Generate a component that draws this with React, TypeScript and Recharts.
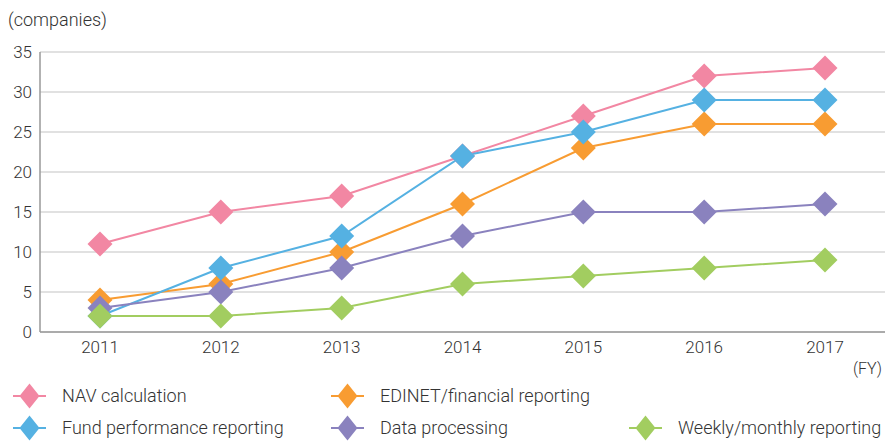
import React from 'react';
import { LineChart, Line, XAxis, YAxis, CartesianGrid, Legend, Label } from 'recharts';

const years = ['2011', '2012', '2013', '2014', '2015', '2016', '2017'];
const navCalc = [11, 15, 17, 22, 27, 32, 33];
const edinet = [4, 6, 10, 16, 23, 26, 26];
const fundPerf = [2, 8, 12, 22, 25, 29, 29];
const dataProc = [3, 5, 8, 12, 15, 15, 16];
const weekly = [2, 2, 3, 6, 7, 8, 9];
const yTicks = [0, 5, 10, 15, 20, 25, 30, 35];

const series = [
  { key: 'nav', name: 'NAV calculation', color: '#F287A3', values: navCalc },
  { key: 'edinet', name: 'EDINET/financial reporting', color: '#F89C32', values: edinet },
  { key: 'fund', name: 'Fund performance reporting', color: '#55B1E2', values: fundPerf },
  { key: 'data', name: 'Data processing', color: '#8A82BE', values: dataProc },
  { key: 'weekly', name: 'Weekly/monthly reporting', color: '#A2CD60', values: weekly },
];

const data = years.map((year, i) => {
  const row: Record<string, string | number> = { year };
  series.forEach((s) => { row[s.key] = s.values[i]; });
  return row;
});

const FONT = 'Roboto, "Liberation Sans", Arial, sans-serif';
const TEXT = '#333';

// legend grid: [left, top] of each item
const legendPos: Record<string, [number, number]> = {
  nav: [13, 383],
  edinet: [331, 383],
  fund: [13, 415],
  data: [331, 415],
  weekly: [629, 415],
};

const Diamond = (props: any) => {
  const { cx, cy, stroke } = props;
  if (cx == null || cy == null) return null;
  const r = 12.5;
  return (
    <polygon
      points={`${cx},${cy - r} ${cx + r},${cy} ${cx},${cy + r} ${cx - r},${cy}`}
      fill={stroke}
    />
  );
};

const LegendContent = () => (
  <div style={{ position: 'relative', width: 885, height: 63 }}>
    {series.map((s) => {
      const [left, top] = legendPos[s.key];
      return (
        <div
          key={s.key}
          style={{ position: 'absolute', left, top: top - 378, display: 'flex', alignItems: 'center', height: 26 }}
        >
          <svg width={33} height={26}>
            <line x1={0} y1={13} x2={33} y2={13} stroke={s.color} strokeWidth={2} />
            <polygon points="16.5,0.5 26.5,13 16.5,25.5 6.5,13" fill={s.color} />
          </svg>
          <span style={{ marginLeft: 16, fontFamily: FONT, fontWeight: 300, fontSize: 18, color: TEXT, whiteSpace: 'nowrap', lineHeight: '22px' }}>
            {s.name}
          </span>
        </div>
      );
    })}
  </div>
);

export default function App() {
  return (
    <div style={{ position: 'absolute', left: 0, top: 0, width: 885, height: 441, background: '#fff', overflow: 'hidden' }}>
      <LineChart width={885} height={441} data={data} margin={{ top: 52, right: 0, left: 0, bottom: 79 }}>
        <CartesianGrid vertical={false} stroke="#c4c4c4" strokeWidth={1.2} />
        <XAxis
          dataKey="year"
          padding={{ left: 60, right: 60 }}
          axisLine={{ stroke: '#999', strokeWidth: 1.5 }}
          tickLine={false}
          height={30}
          tick={{ fill: TEXT, fontSize: 17, fontFamily: FONT, fontWeight: 300 }}
          tickMargin={3}
        >
          <Label
            content={() => (
              <text x={853} y={374} fill={TEXT} fontSize={16} fontFamily={FONT} fontWeight={300}>(FY)</text>
            )}
          />
        </XAxis>
        <YAxis
          domain={[0, 35]}
          ticks={yTicks}
          width={40}
          axisLine={{ stroke: '#999', strokeWidth: 1.5 }}
          tickLine={false}
          tick={{ fill: TEXT, fontSize: 17, fontFamily: FONT, fontWeight: 300 }}
        >
          <Label
            content={() => (
              <text x={8} y={26} fill={TEXT} fontSize={18} fontFamily={FONT} fontWeight={300}>(companies)</text>
            )}
          />
        </YAxis>
        <Legend
          layout="vertical"
          align="center"
          verticalAlign="middle"
          wrapperStyle={{ position: 'absolute', left: 0, top: 378, width: 885 }}
          content={LegendContent}
        />
        {series.map((s) => (
          <Line
            key={s.key}
            dataKey={s.key}
            name={s.name}
            stroke={s.color}
            strokeWidth={2}
            dot={<Diamond />}
            activeDot={false}
            isAnimationActive={false}
          />
        ))}
      </LineChart>
    </div>
  );
}
